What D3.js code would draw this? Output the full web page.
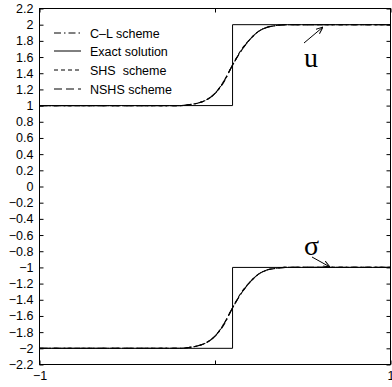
<!DOCTYPE html>
<html><head><meta charset="utf-8">
<script src="https://cdn.jsdelivr.net/npm/d3@7"></script>
<style>body{margin:0;background:#fff}svg{display:block}</style>
</head><body>
<script>
// ---- data ----
const xExact = [-1, 0.1, 0.1, 1];
const uExact = [1, 1, 2, 2];
const sigmaExact = [-2, -2, -1, -1];

const xNum = [-1, -0.2, -0.15, -0.1, -0.05, 0, 0.05, 0.1, 0.15, 0.2, 0.25, 0.3, 0.35, 0.4, 1];
const uCL   = [1, 1.0, 1.01, 1.03, 1.07, 1.15, 1.29, 1.5, 1.68, 1.82, 1.92, 1.97, 1.99, 2.0, 2.0];
const uSHS  = [1, 1.0, 1.01, 1.03, 1.07, 1.15, 1.30, 1.5, 1.69, 1.82, 1.92, 1.97, 1.99, 2.0, 2.0];
const uNSHS = [1, 1.0, 1.01, 1.03, 1.07, 1.15, 1.30, 1.5, 1.68, 1.82, 1.92, 1.97, 1.99, 2.0, 2.0];
const sCL   = [-2, -2.0, -1.99, -1.97, -1.93, -1.85, -1.71, -1.5, -1.32, -1.18, -1.08, -1.03, -1.01, -1.0, -1.0];
const sSHS  = [-2, -2.0, -1.99, -1.97, -1.93, -1.85, -1.70, -1.5, -1.31, -1.18, -1.08, -1.03, -1.01, -1.0, -1.0];
const sNSHS = [-2, -2.0, -1.99, -1.97, -1.93, -1.85, -1.70, -1.5, -1.32, -1.18, -1.08, -1.03, -1.01, -1.0, -1.0];

const yTicks = [-2.2,-2,-1.8,-1.6,-1.4,-1.2,-1,-0.8,-0.6,-0.4,-0.2,0,0.2,0.4,0.6,0.8,1,1.2,1.4,1.6,1.8,2,2.2];
const xTicks = [-1, 0, 1];
const xTickLabels = ["\u22121", "", "1"];
const legendLabels = ["C\u2013L scheme", "Exact solution", "SHS  scheme", "NSHS scheme"];

// ---- layout ----
const W = 392, H = 387;
const L = 39.5, R = 390.5, T = 8.5, B = 364.5;
const svg = d3.select("body").append("svg").attr("width", W).attr("height", H);
const x = d3.scaleLinear().domain([-1, 1]).range([L, R]);
const y = d3.scaleLinear().domain([-2.2, 2.2]).range([B, T]);
const fmt = v => (Math.abs(v) < 1e-9 ? "0" : d3.format("~g")(v)).replace("-", "\u2212");

svg.append("defs").append("marker").attr("id","ah").attr("viewBox","0 0 10 10")
  .attr("refX",10).attr("refY",5).attr("markerWidth",7).attr("markerHeight",7).attr("orient","auto")
  .append("path").attr("d","M0,1 L10,5 L0,9").attr("fill","none").attr("stroke","#000").attr("stroke-width",1.4);

const dashCL = "7,3,1.5,3", dashSHS = "4,3", dashNSHS = "8,4";

const line = d3.line().x(d => x(d[0])).y(d => y(d[1]));
const zip = (xs, ys) => xs.map((v, i) => [v, ys[i]]);

const g = svg.append("g");
// exact
[uExact, sigmaExact].forEach(s => g.append("path").attr("d", line(zip(xExact, s)))
  .attr("fill","none").attr("stroke","#000").attr("stroke-width",1));
const numLine = d3.line().curve(d3.curveMonotoneX).x(d => x(d[0])).y(d => y(d[1]));
[[uCL,dashCL],[uSHS,dashSHS],[uNSHS,dashNSHS],[sCL,dashCL],[sSHS,dashSHS],[sNSHS,dashNSHS]].forEach(([s,d]) =>
  g.append("path").attr("d", numLine(zip(xNum, s))).attr("fill","none")
   .attr("stroke","#000").attr("stroke-width",1.1).attr("stroke-dasharray", d));

// frame
svg.append("rect").attr("x",L).attr("y",T).attr("width",R-L).attr("height",B-T)
  .attr("fill","none").attr("stroke","#000").attr("stroke-width",1);

// axes: ticks inside
const yAx = d3.axisLeft(y).tickValues(yTicks).tickSize(-4).tickPadding(6).tickFormat(fmt);
const ya = svg.append("g").attr("transform",`translate(${L},0)`).call(yAx);
const yAxR = d3.axisRight(y).tickValues(yTicks).tickSize(-4).tickFormat("");
const yr = svg.append("g").attr("transform",`translate(${R},0)`).call(yAxR);
const xAx = d3.axisBottom(x).tickValues(xTicks).tickSize(-4).tickPadding(7).tickFormat((d,i)=>xTickLabels[i]);
const xa = svg.append("g").attr("transform",`translate(0,${B})`).call(xAx);
const xAxT = d3.axisTop(x).tickValues(xTicks).tickSize(-4).tickFormat("");
const xt = svg.append("g").attr("transform",`translate(0,${T})`).call(xAxT);
[ya,yr,xa,xt].forEach(a => {
  a.select(".domain").remove();
  a.selectAll("line").attr("stroke","#000");
  a.selectAll("text").attr("fill","#000").style("font-family","'Liberation Sans', Arial, sans-serif").style("font-size","12.5px");
});

// legend
const leg = svg.append("g");
const legDash = [dashCL, null, dashSHS, dashNSHS];
const legY = [33, 51, 70, 89];
legendLabels.forEach((lab, i) => {
  leg.append("line").attr("x1",54).attr("x2",81).attr("y1",legY[i]).attr("y2",legY[i])
    .attr("stroke","#000").attr("stroke-width",1).attr("stroke-dasharray", legDash[i]);
  leg.append("text").attr("x",90).attr("y",legY[i]+4.5).text(lab)
    .attr("xml:space","preserve").style("white-space","pre")
    .style("font-family","'Liberation Sans', Arial, sans-serif").style("font-size","12.5px");
});

// annotations
svg.append("text").attr("x",304).attr("y",67).text("u")
  .style("font-family","'Liberation Serif', 'Times New Roman', serif").style("font-size","28px");
svg.append("line").attr("x1",304).attr("y1",43).attr("x2",323).attr("y2",27)
  .attr("stroke","#000").attr("stroke-width",1).attr("marker-end","url(#ah)");
svg.append("text").attr("x",304).attr("y",255).text("\u03c3")
  .style("font-family","'Liberation Serif', 'Times New Roman', serif").style("font-size","28px");
svg.append("line").attr("x1",312).attr("y1",257).attr("x2",330).attr("y2",267)
  .attr("stroke","#000").attr("stroke-width",1).attr("marker-end","url(#ah)");
</script>
</body></html>
